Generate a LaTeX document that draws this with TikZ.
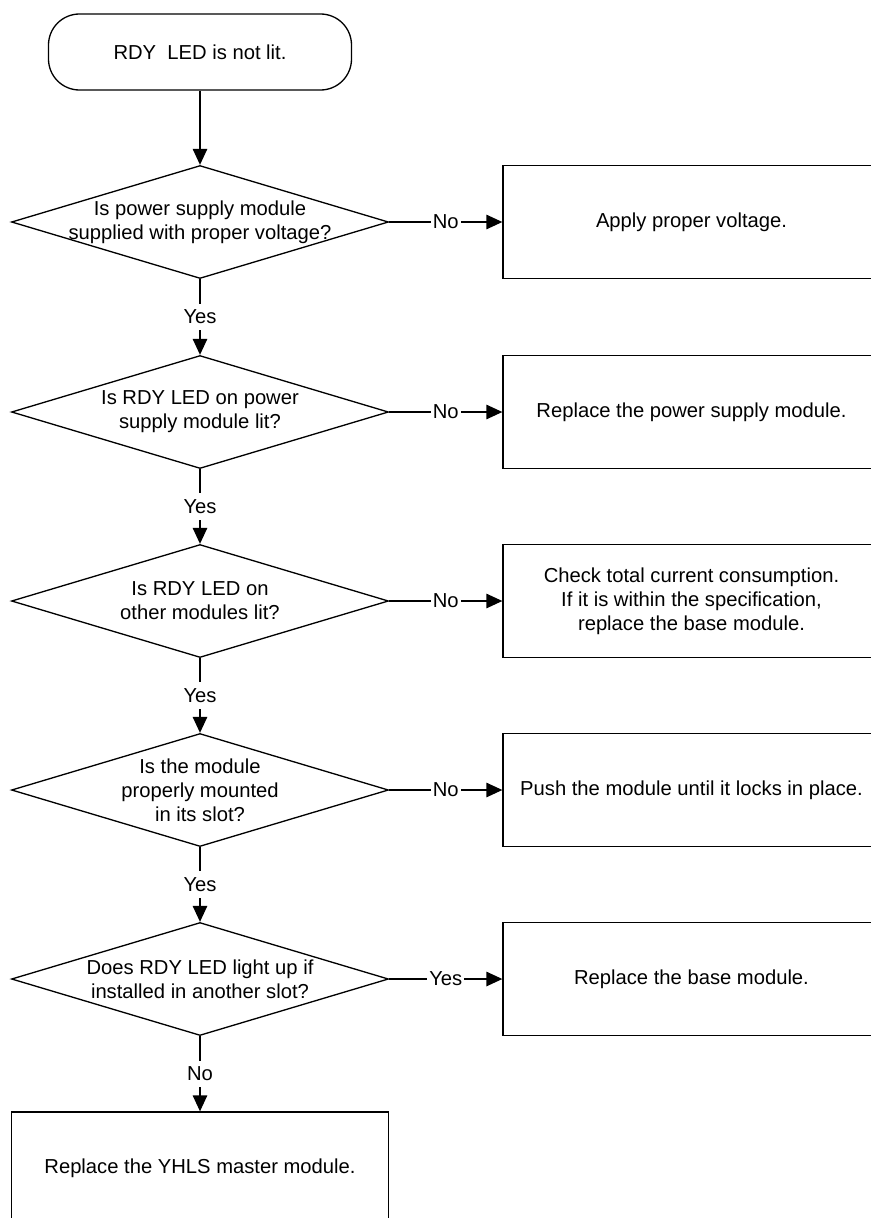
\documentclass[tikz,border=0pt]{standalone}
\usepackage{fontspec}
\setmainfont{Liberation Sans}
\usetikzlibrary{shapes.geometric,arrows.meta}

\begin{document}
\begin{tikzpicture}[ - > , >= {Triangle[length=0.32cm , width=0.29cm]} , line width =0.75 pt ,
   every node/.style ={font=\fontsize{11.5}{13.7}\selectfont , align=center} ,
   terminal/.style ={rectangle , draw , rounded corners=0.62cm , minimum width=6.06cm , minimum height=1.52cm} ,
   decision/.style ={diamond , draw , inner sep=0pt , minimum width=7.54cm , minimum height=2.26cm} ,
   action/.style ={rectangle , draw , minimum width=7.54cm , minimum height=2.26cm} ,
   answer/.style ={fill=white , inner xsep=0.04cm , inner ysep=0.12cm}]
   \clip (0 , 0) rectangle (17.42 , -24.36);
   \node [terminal] (start) at (4 , -1.04) {RDY~~LED is not lit.};
   \node [decision , label={center:Is power supply module\\supplied with proper voltage?}] (voltage) at (4 , -4.44) {};
   \node [action] (voltfix) at (13.83 , -4.44) {Apply proper voltage.};
   \node [decision , label={center:Is RDY LED on power\\supply module lit?}] (psled) at (4 , -8.24) {};
   \node [action] (psfix) at (13.83 , -8.24) {Replace the power supply module.};
   \node [decision , label={center:Is RDY LED on\\other modules lit?}] (others) at (4 , -12.02) {};
   \node [action] (basecheck) at (13.83 , -12.02) {Check total current consumption.\\If it is within the specification,\\replace the base module.};
   \node [decision , label={center:Is the module\\properly mounted\\in its slot?}] (mounted) at (4 , -15.8) {};
   \node [action] (push) at (13.83 , -15.8) {Push the module until it locks in place.};
   \node [decision , label={center:Does RDY LED light up if\\installed in another slot?}] (slot) at (4 , -19.58) {};
   \node [action] (basefix) at (13.83 , -19.58) {Replace the base module.};
   \node [action] (master) at (4 , -23.37) {Replace the YHLS master module.};

   \path (start) edge (voltage) ;
   \path (voltage) edge node [answer] {No} (voltfix) ;
   \path (voltage) edge node [answer] {Yes} (psled) ;
   \path (psled) edge node [answer] {No} (psfix) ;
   \path (psled) edge node [answer] {Yes} (others) ;
   \path (others) edge node [answer] {No} (basecheck) ;
   \path (others) edge node [answer] {Yes} (mounted) ;
   \path (mounted) edge node [answer] {No} (push) ;
   \path (mounted) edge node [answer] {Yes} (slot) ;
   \path (slot) edge node [answer] {Yes} (basefix) ;
   \path (slot) edge node [answer] {No} (master) ;
\end{tikzpicture}
\end{document}
